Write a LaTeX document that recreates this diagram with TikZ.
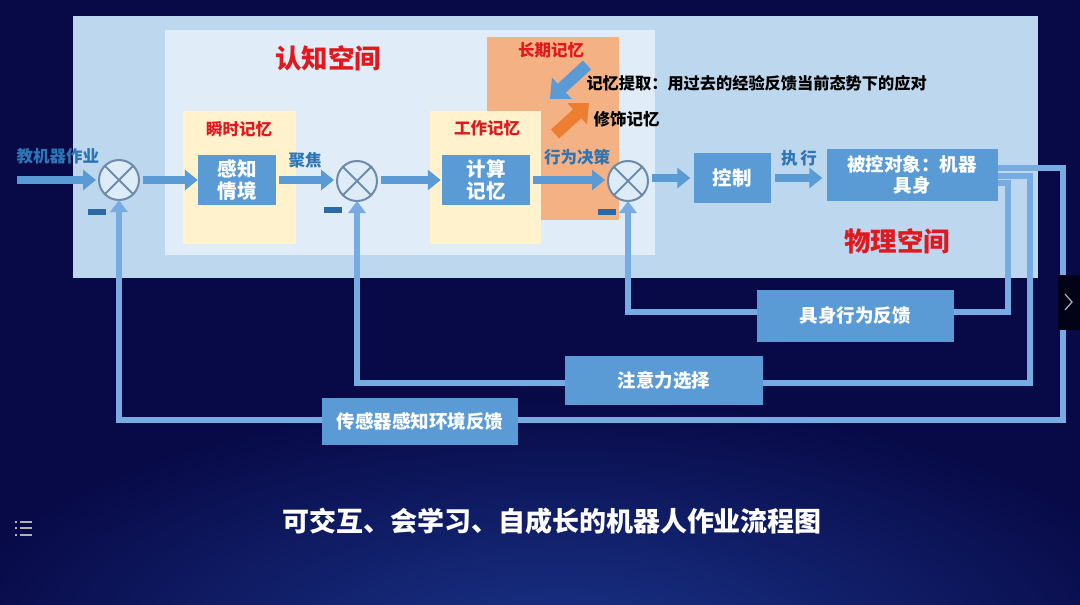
\documentclass[tikz,border=0pt]{standalone}
\usepackage{fontspec}
\setmainfont{Noto Sans CJK SC}
\usetikzlibrary{arrows.meta,calc}
\definecolor{bg}{RGB}{8,10,72}
\definecolor{glow}{RGB}{26,52,138}
\definecolor{outerp}{RGB}{189,215,238}
\definecolor{innerp}{RGB}{224,236,248}
\definecolor{yel}{RGB}{255,242,204}
\definecolor{ora}{RGB}{244,177,131}
\definecolor{boxb}{RGB}{91,155,213}
\definecolor{txtb}{RGB}{46,117,182}
\definecolor{redt}{RGB}{225,25,30}
\definecolor{orarr}{RGB}{237,125,49}
\definecolor{fbc}{RGB}{118,172,226}
\definecolor{sumd}{RGB}{110,140,170}
\definecolor{sumf}{RGB}{222,236,248}
\definecolor{minusc}{RGB}{45,105,165}
\newcommand{\fs}[1]{\bfseries\fontsize{#1}{#1}\selectfont}
\tikzset{
  bluebox/.style={fill=boxb, text=white, align=center, inner sep=0pt, font=\fs{19.5}\linespread{1.12}\selectfont},
  fbbox/.style={fill=boxb, text=white, inner sep=0pt, font=\fs{18.5}},
  memlbl/.style={text=redt, font=\fs{16.5}},
  bluelbl/.style={text=txtb, font=\fs{16.5}},
  sumnode/.style={circle, minimum size=40pt, inner sep=0pt, draw=sumd, line width=2pt, fill=sumf},
  minusbar/.style={fill=minusc, minimum width=18pt, minimum height=6pt, inner sep=0pt},
  blk/.style={draw=boxb, line width=8pt, -{Triangle[width=20pt,length=13pt]}},
  fbarrow/.style={draw=fbc, line width=6pt, line join=miter, -{Triangle[width=17pt,length=12pt]}},
}
\begin{document}
\begin{tikzpicture}[x=1pt,y=-1pt]
\useasboundingbox (0,0) rectangle (1080,605);
% background
\fill[bg] (0,0) rectangle (1080,605);
\shade[inner color=glow, outer color=bg] (560,650) ellipse (620 and 250);
% panels
\fill[outerp] (73,16) rectangle (1038,278);
\fill[innerp] (165,30) rectangle (655,255);
\fill[ora] (487,37) rectangle (619,220);
\fill[yel] (183,111) rectangle (296,244);
\fill[yel] (430,111) rectangle (541,244);
% panel labels
\node[text=redt, font=\fs{26.5}] (cog) at (328,58) {认知空间};
\node[text=redt, font=\fs{26.5}] (phy) at (897,241) {物理空间};
\node[memlbl] (ltm) at (551,50) {长期记忆};
\node[memlbl] (stm) at (239,129) {瞬时记忆};
\node[memlbl] (wm) at (487,128) {工作记忆};
% boxes
\node[bluebox, minimum width=78pt, minimum height=50pt] (perc) at (237,180) {感知\\情境};
\node[bluebox, minimum width=88pt, minimum height=50pt] (calc) at (486,180) {计算\\记忆};
\node[bluebox, minimum width=77pt, minimum height=50pt] (ctrl) at (732,178) {控制};
\node[bluebox, minimum width=171pt, minimum height=52pt, font=\fs{18.5}\linespread{1.12}\selectfont] (obj) at (912,175) {被控对象：机器\\具身};
% summing junctions
\node[sumnode] (s1) at (119,180) {};
\node[sumnode] (s2) at (357,181) {};
\node[sumnode] (s3) at (628,181) {};
\foreach \s in {s1,s2,s3}{
  \draw[sumd, line width=2pt] (\s.north west) -- (\s.south east);
  \draw[sumd, line width=2pt] (\s.north east) -- (\s.south west);
}
\node[minusbar] (m1) at (97,212) {};
\node[minusbar] (m2) at (333,210) {};
\node[minusbar] (m3) at (607,212) {};
% forward path
\coordinate (in) at (17,180);
\node[bluelbl, anchor=west] (teach) at (13,156) {教机器作业};
\draw[blk] (in) -- ([xshift=-2pt]s1.west);
\draw[blk] ([xshift=3pt]s1.east) -- (perc.west);
\draw[blk] ([xshift=3pt]perc.east) -- ([xshift=-2pt]s2.west |- perc.east);
\node[bluelbl] (focus) at (305,160) {聚焦};
\draw[blk] ([xshift=3pt]s2.east |- calc.west) -- ([xshift=-1pt]calc.west);
\draw[blk] ([xshift=3pt]calc.east) -- ([xshift=-2pt]s3.west |- calc.east);
\node[bluelbl] (dec) at (577,157) {行为决策};
\draw[blk] ([xshift=3pt]s3.east |- ctrl.west) -- ([xshift=-3pt]ctrl.west);
\draw[blk] ([xshift=4pt]ctrl.east) -- ([xshift=-4pt]obj.west |- ctrl.east);
\node[bluelbl] (exec) at (799,158) {执\,行};
% long-term memory arrows
\coordinate (ra) at (587,65);
\coordinate (rb) at (550,99);
\draw[draw=boxb, line width=12pt, -{Triangle[width=28pt,length=16pt]}] (ra) -- (rb);
\coordinate (oa) at (555,134);
\coordinate (ob) at (589,103);
\draw[draw=orarr, line width=12pt, -{Triangle[width=28pt,length=16pt]}] (oa) -- (ob);
\node[anchor=west, font=\fs{16.2}] (retr) at (583,83) {记忆提取：用过去的经验反馈当前态势下的应对};
\node[anchor=west, font=\fs{16.5}] (mod) at (590,119) {修饰记忆};
% feedback loops
\coordinate (c1) at (1063,168);
\coordinate (c2) at (1063,420);
\coordinate (d1) at (1030,176);
\coordinate (d2) at (1030,383);
\coordinate (e1) at (1008,183);
\coordinate (e2) at (1008,312);
\draw[fbarrow] (obj.east |- c1) -- (c1) -- (c2) -- (s1.south |- c2) -- ([yshift=1pt]s1.south);
\draw[fbarrow] (obj.east |- d1) -- (d1) -- (d2) -- (s2.south |- d2) -- ([yshift=1pt]s2.south);
\draw[fbarrow] (obj.east |- e1) -- (e1) -- (e2) -- (s3.south |- e2) -- ([yshift=1pt]s3.south);
\node[fbbox, minimum width=197pt, minimum height=52pt] (fb1) at (855,316) {具身行为反馈};
\node[fbbox, minimum width=198pt, minimum height=49pt] (fb2) at (664,380) {注意力选择};
\node[fbbox, minimum width=196pt, minimum height=47pt] (fb3) at (420,421) {传感器感知环境反馈};
% caption
\node[text=white, font=\fs{27}] (cap) at (552,521) {可交互、会学习、自成长的机器人作业流程图};
% UI bits
\fill[black!70!bg] (1058,275) rectangle (1080,330);
\draw[gray!60, line width=1.2pt] (1065,294) -- (1072,302) -- (1065,310);
\foreach \yy in {522,528,535}{
  \draw[gray!60, line width=1.2pt] (15,\yy) -- (17,\yy);
  \draw[gray!60, line width=1.2pt] (20,\yy) -- (32,\yy);
}
\end{tikzpicture}
\end{document}
